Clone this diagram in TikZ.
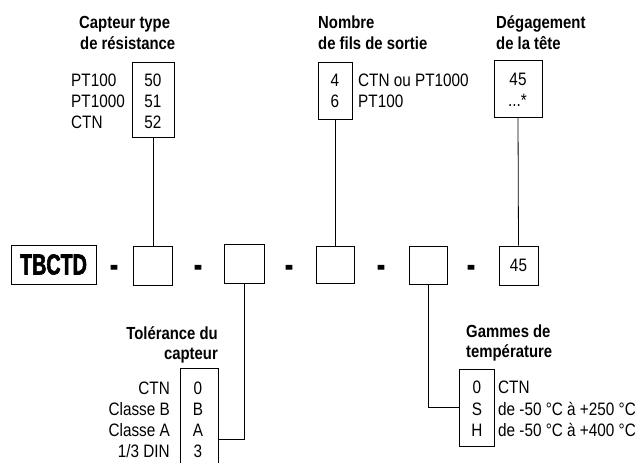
\documentclass[tikz,border=0pt]{standalone}
\usepackage{fontspec}
\setmainfont{Liberation Sans}[FakeStretch=0.85]
\newfontfamily\tbfont{Liberation Sans Bold}[FakeStretch=0.68,FakeBold=2]
\begin{document}
\begin{tikzpicture}[x=1pt,y=-1pt,
  box/.style={draw, line width=0.8pt, inner sep=0pt},
  conn/.style={line width=0.8pt},
  txt/.style={inner sep=0pt, font=\fontsize{18}{20}\selectfont},
  hd/.style={inner sep=0pt, font=\fontsize{17.5}{20}\selectfont\bfseries},
  dashmark/.style={inner sep=0pt, anchor=base, font=\tbfont\fontsize{34}{34}\selectfont}
]
\useasboundingbox (0,0) rectangle (641,463);

% ---- top: capteur ----
\node[hd, anchor=base west] (capH1) at (79,28) {Capteur type};
\node[hd, anchor=base west] (capH2) at (80,49) {de résistance};
\node[box, minimum width=42pt, minimum height=75pt] (capbox) at (153,99.5) {};
\node[txt, anchor=base] (cv1) at (153,86) {50};
\node[txt, anchor=base] (cv2) at (153,107) {51};
\node[txt, anchor=base] (cv3) at (153,128) {52};
\node[txt, anchor=base west] (cl1) at (71,86) {PT100};
\node[txt, anchor=base west] (cl2) at (71,107) {PT1000};
\node[txt, anchor=base west] (cl3) at (71,128) {CTN};

% ---- top: nombre ----
\node[hd, anchor=base west] (nbH1) at (318,28) {Nombre};
\node[hd, anchor=base west] (nbH2) at (318,49) {de fils de sortie};
\node[box, minimum width=34pt, minimum height=57pt] (nbbox) at (335,90.5) {};
\node[txt, anchor=base] (nv1) at (335,86) {4};
\node[txt, anchor=base] (nv2) at (335,107) {6};
\node[txt, anchor=base west] (nl1) at (358,86) {CTN ou PT1000};
\node[txt, anchor=base west] (nl2) at (358,107) {PT100};

% ---- top: degagement ----
\node[hd, anchor=base west] (dgH1) at (496,28) {Dégagement};
\node[hd, anchor=base west] (dgH2) at (496,49) {de la tête};
\node[box, minimum width=48pt, minimum height=57pt] (dgbox) at (518,88.5) {};
\node[txt, anchor=base] (dv1) at (518,85) {45};
\node[txt, anchor=base] (dv2) at (517.5,106) {...*};

% ---- middle row ----
\node[box, minimum width=85pt, minimum height=39pt] (tb) at (53.5,264.5) {};
\node[inner sep=0pt, font=\tbfont\fontsize{29}{29}\selectfont] (tbtxt) at (tb.center) {TBCTD};
\node[dashmark] (d1) at (114,276) {-};
\node[box, minimum width=39pt, minimum height=39pt] (b1) at (153,265.5) {};
\node[dashmark] (d2) at (198,276) {-};
\node[box, minimum width=40pt, minimum height=39pt] (b2) at (244,263.5) {};
\node[dashmark] (d3) at (289,276) {-};
\node[box, minimum width=38pt, minimum height=37pt] (b3) at (335,264.5) {};
\node[dashmark] (d4) at (381,276) {-};
\node[box, minimum width=38pt, minimum height=38pt] (b4) at (428,265) {};
\node[dashmark] (d5) at (471,276) {-};
\node[box, minimum width=39pt, minimum height=39pt] (b5) at (518.5,265.5) {};
\node[txt] (b5txt) at (b5.center) {45};

% ---- bottom: tolerance ----
\node[hd, anchor=base east] (tlH1) at (218,339) {Tolérance du};
\node[hd, anchor=base east] (tlH2) at (218,359) {capteur};
\node[box, minimum width=38pt, minimum height=104pt] (tlbox) at (199,420) {};
\node[txt, anchor=base] (tv1) at (198,394) {0};
\node[txt, anchor=base] (tv2) at (198,415) {B};
\node[txt, anchor=base] (tv3) at (198,436) {A};
\node[txt, anchor=base] (tv4) at (198,457) {3};
\node[txt, anchor=base east] (tl1) at (170,394) {CTN};
\node[txt, anchor=base east] (tl2) at (170,415) {Classe B};
\node[txt, anchor=base east] (tl3) at (170,436) {Classe A};
\node[txt, anchor=base east] (tl4) at (170,457) {1/3 DIN};

% ---- bottom: gammes ----
\node[hd, anchor=base west] (gmH1) at (466,337) {Gammes de};
\node[hd, anchor=base west] (gmH2) at (466,357) {température};
\node[box, minimum width=35pt, minimum height=77pt] (gmbox) at (476.5,407.5) {};
\node[txt, anchor=base] (gv1) at (477,393) {0};
\node[txt, anchor=base] (gv2) at (477,415) {S};
\node[txt, anchor=base] (gv3) at (477,436) {H};
\node[txt, anchor=base west] (gl1) at (498,393) {CTN};
\node[txt, anchor=base west] (gl2) at (498,415) {de -50 °C à +250 °C};
\node[txt, anchor=base west] (gl3) at (498,436) {de -50 °C à +400 °C};

% ---- connectors ----
\draw[conn] (capbox.south) -- (b1.north);
\draw[conn] (nbbox.south) -- (b3.north);
\draw[conn] (dgbox.south) -- (b5.north);
\coordinate (tj) at (244,439);
\draw[conn] (b2.south) -- (tj) -- (tlbox.east |- tj);
\draw[conn] (b4.south) |- (gmbox.west);
\end{tikzpicture}
\end{document}
